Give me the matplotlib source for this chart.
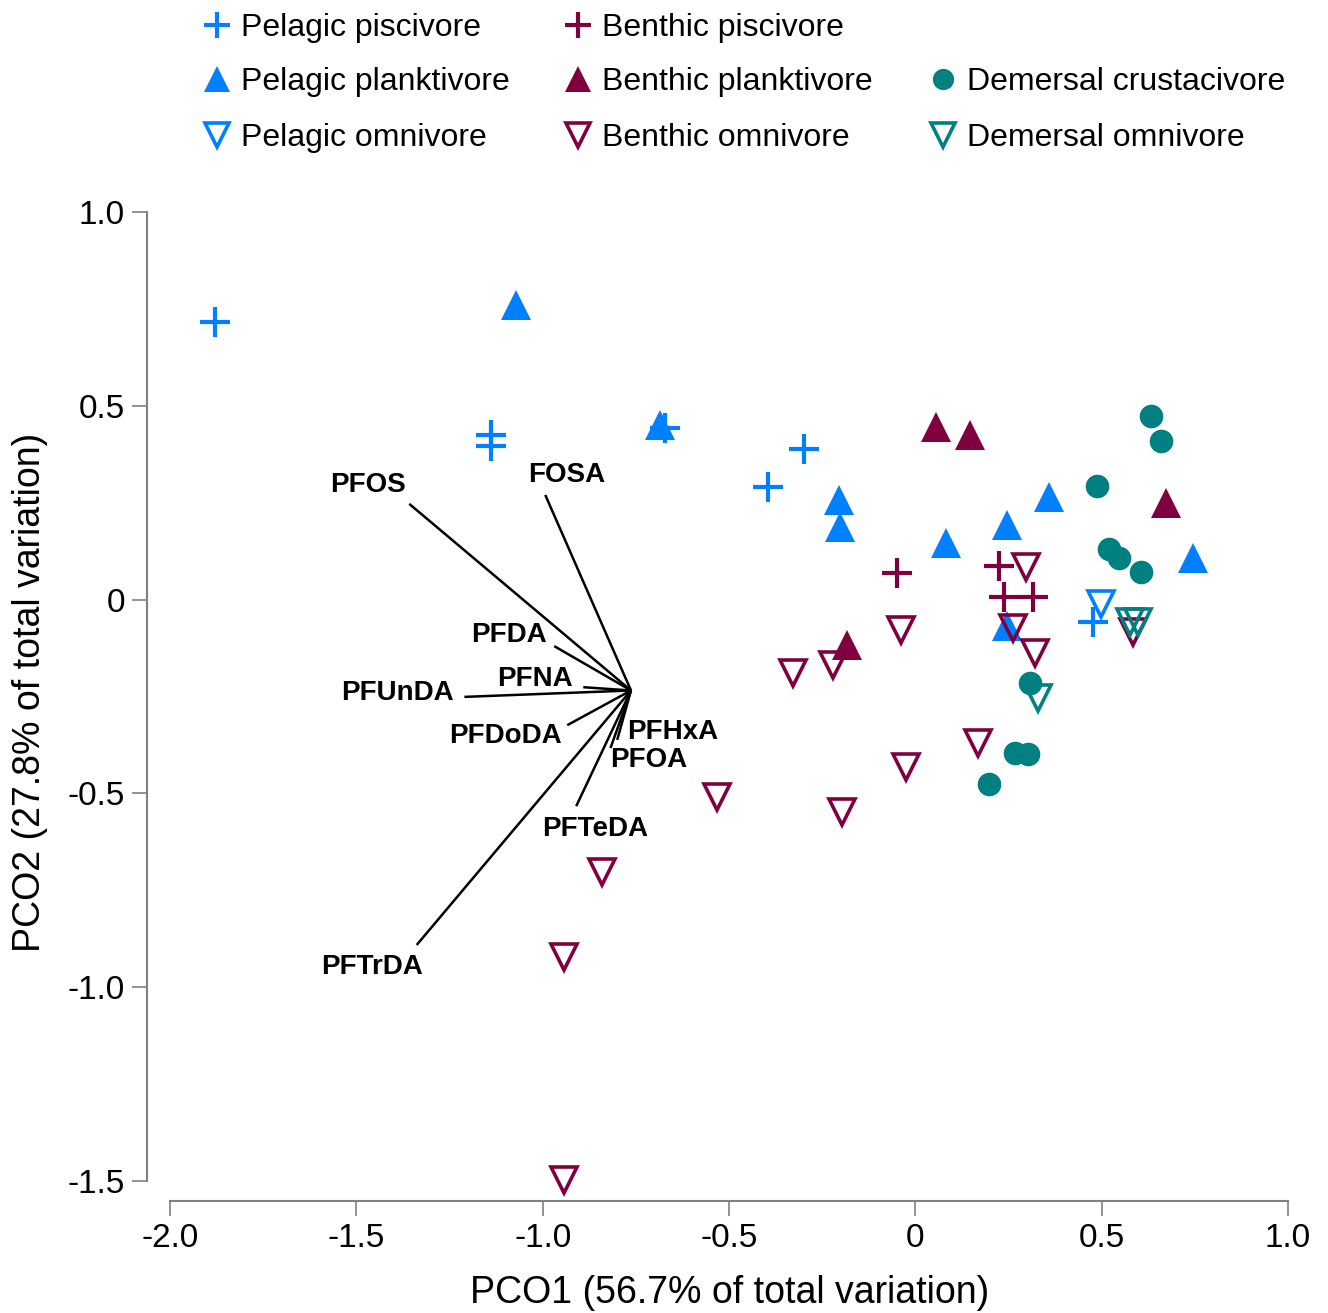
import matplotlib
matplotlib.use("Agg")
import matplotlib.pyplot as plt
from matplotlib.lines import Line2D

plt.rcParams['font.family'] = ['Liberation Sans', 'DejaVu Sans']
plt.rcParams['axes.unicode_minus'] = False

# sample scores (PCO1, PCO2) by feeding group
pel_plank_x = [-1.071, -0.684, -0.204, -0.201, 0.083, 0.247, 0.360, 0.746, 0.247]
pel_plank_y = [0.759, 0.450, 0.257, 0.187, 0.146, 0.192, 0.265, 0.107, -0.069]
pel_pisc_x = [-1.878, -1.138, -1.138, -0.671, -0.298, -0.394, 0.478]
pel_pisc_y = [0.716, 0.425, 0.396, 0.443, 0.389, 0.290, -0.058]
pel_omni_x = [0.499]
pel_omni_y = [-0.012]
ben_omni_x = [-0.944, -0.942, -0.840, -0.531, -0.327, -0.220, -0.038, -0.196,
              -0.024, 0.169, 0.263, 0.322, 0.298, 0.585]
ben_omni_y = [-1.498, -0.922, -0.703, -0.509, -0.190, -0.169, -0.079, -0.548,
              -0.432, -0.370, -0.074, -0.138, 0.084, -0.084]
ben_plank_x = [0.056, 0.148, 0.673, -0.183]
ben_plank_y = [0.445, 0.424, 0.249, -0.117]
ben_pisc_x = [-0.048, 0.225, 0.239, 0.317]
ben_pisc_y = [0.068, 0.087, 0.007, 0.007]
dem_omni_x = [0.330, 0.577, 0.598]
dem_omni_y = [-0.254, -0.058, -0.058]
dem_crust_x = [0.633, 0.660, 0.488, 0.521, 0.547, 0.606, 0.309, 0.268, 0.303, 0.199]
dem_crust_y = [0.473, 0.410, 0.293, 0.130, 0.107, 0.071, -0.215, -0.396, -0.399, -0.476]

# vector overlay
vec_names = ['PFOS', 'FOSA', 'PFDA', 'PFNA', 'PFUnDA', 'PFDoDA', 'PFHxA', 'PFOA', 'PFTeDA', 'PFTrDA']
vec_x = [-1.358, -0.993, -0.969, -0.891, -1.210, -0.934, -0.800, -0.818, -0.910, -1.338]
vec_y = [0.247, 0.270, -0.120, -0.226, -0.251, -0.324, -0.362, -0.383, -0.533, -0.891]
vec_origin = (-0.763, -0.2345)

x_ticks = [-2.0, -1.5, -1.0, -0.5, 0.0, 0.5, 1.0]
x_ticklabels = ['-2.0', '-1.5', '-1.0', '-0.5', '0', '0.5', '1.0']
y_ticks = [1.0, 0.5, 0.0, -0.5, -1.0, -1.5]
y_ticklabels = ['1.0', '0.5', '0', '-0.5', '-1.0', '-1.5']

BLUE = '#0080ff'
MAROON = '#80003f'
TEAL = '#008080'

# label offsets (points) from vector tips
label_off = {
    'PFOS': (-29.5, 13.7), 'FOSA': (15.1, 14.4), 'PFDA': (-32.4, 7.9),
    'PFNA': (-34.6, 5.8), 'PFUnDA': (-48.2, 2.9), 'PFDoDA': (-44.6, -7.9),
    'PFHxA': (40.3, 5.8), 'PFOA': (27.4, -8.6), 'PFTeDA': (13.7, -16.6),
    'PFTrDA': (-32.4, -15.8),
}

groups = [
    ('Pelagic planktivore', pel_plank_x, pel_plank_y, BLUE, '^', True),
    ('Pelagic piscivore', pel_pisc_x, pel_pisc_y, BLUE, '+', True),
    ('Pelagic omnivore', pel_omni_x, pel_omni_y, BLUE, 'v', False),
    ('Benthic omnivore', ben_omni_x, ben_omni_y, MAROON, 'v', False),
    ('Benthic planktivore', ben_plank_x, ben_plank_y, MAROON, '^', True),
    ('Benthic piscivore', ben_pisc_x, ben_pisc_y, MAROON, '+', True),
    ('Demersal omnivore', dem_omni_x, dem_omni_y, TEAL, 'v', False),
    ('Demersal crustacivore', dem_crust_x, dem_crust_y, TEAL, 'o', True),
]


def marker_style(color, marker, filled, scale=1.0):
    if marker == '+':
        return dict(marker='+', markersize=21 * scale, markeredgewidth=3.0, color=color)
    if marker == 'o':
        return dict(marker='o', markersize=17 * scale, color=color, markeredgewidth=0)
    if filled:
        return dict(marker=marker, markersize=21 * scale, color=color, markeredgewidth=0)
    return dict(marker=marker, markersize=19 * scale, markeredgecolor=color,
                markerfacecolor='none', markeredgewidth=2.6)


fig = plt.figure(figsize=(13.28, 13.13), dpi=100)
ax = fig.add_axes([147 / 1328, 1 - 1201 / 1313, 1141 / 1328, 989 / 1313])

for name, xs, ys, color, marker, filled in groups:
    ax.plot(xs, ys, linestyle='none', clip_on=False, **marker_style(color, marker, filled))

ox, oy = vec_origin
for name, vx, vy in zip(vec_names, vec_x, vec_y):
    ax.plot([ox, vx], [oy, vy], color='black', lw=1.8, solid_capstyle='butt')
    dx, dy = label_off[name]
    ax.annotate(name, (vx, vy), xytext=(dx, dy), textcoords='offset points',
                ha='center', va='center', fontsize=20, fontweight='bold')

ax.set_xlim(-2.0617, 1.0)
ax.set_ylim(-1.5516, 1.0)
for s in ['top', 'right']:
    ax.spines[s].set_visible(False)
ax.spines['left'].set_bounds(-1.5, 1.0)
ax.spines['bottom'].set_bounds(-2.0, 1.0)
for s in ['left', 'bottom']:
    ax.spines[s].set_color('#808080')
    ax.spines[s].set_linewidth(1.5)
ax.set_xticks(x_ticks)
ax.set_xticklabels(x_ticklabels)
ax.set_yticks(y_ticks)
ax.set_yticklabels(y_ticklabels)
ax.tick_params(direction='out', length=11, width=1.2, color='#808080',
               labelsize=24, pad=5)

fig.text(730 / 1328, 1 - 1293 / 1313, 'PCO1 (56.7% of total variation)',
         ha='center', va='center', fontsize=27)
fig.text(30 / 1328, 1 - 692 / 1313, 'PCO2 (27.8% of total variation)',
         ha='center', va='center', fontsize=27, rotation=90)

# legend laid out in three columns, top of figure
legend_order = [
    ('Pelagic piscivore', 0, 0), ('Pelagic planktivore', 0, 1), ('Pelagic omnivore', 0, 2),
    ('Benthic piscivore', 1, 0), ('Benthic planktivore', 1, 1), ('Benthic omnivore', 1, 2),
    ('Demersal crustacivore', 2, 1), ('Demersal omnivore', 2, 2),
]
col_px = [217, 578, 943]
row_px = [25, 79, 135]
style_by_name = {g[0]: g[3:] for g in groups}
for name, c, r in legend_order:
    color, marker, filled = style_by_name[name]
    mx = col_px[c] / 1328
    my = 1 - row_px[r] / 1313
    fig.add_artist(Line2D([mx], [my], transform=fig.transFigure, linestyle='none',
                          **marker_style(color, marker, filled, scale=0.9)))
    fig.text(mx + 24 / 1328, my - 3 / 1313, name, ha='left', va='center', fontsize=23)

fig.savefig('out.png', dpi=100)
